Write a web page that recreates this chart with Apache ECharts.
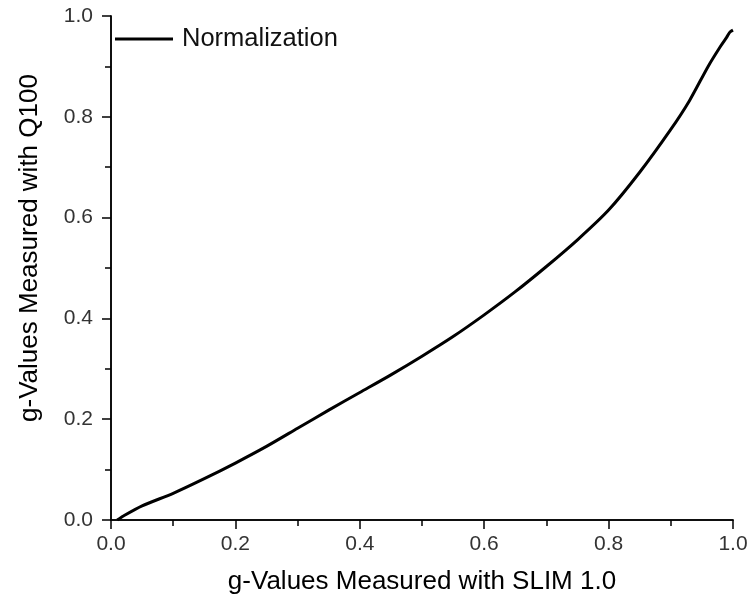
<!DOCTYPE html>
<html>
<head>
<meta charset="utf-8">
<script src="https://cdn.jsdelivr.net/npm/echarts@6/dist/echarts.min.js"></script>
<style>
  html, body { margin: 0; padding: 0; background: #fff; }
  #chart { width: 748px; height: 600px; }
</style>
</head>
<body>
<div id="chart"></div>
<script>
// g-values
const slimValues = [0.01, 0.02, 0.05, 0.1, 0.15, 0.2, 0.25, 0.3, 0.35, 0.4, 0.45, 0.5, 0.55, 0.6, 0.65, 0.7, 0.75, 0.8, 0.85, 0.9, 0.93, 0.96, 0.98, 0.99, 0.995, 1.0]
const q100Values = [0.0, 0.008, 0.028, 0.053, 0.082, 0.113, 0.146, 0.182, 0.218, 0.253, 0.288, 0.325, 0.364, 0.407, 0.453, 0.503, 0.556, 0.615, 0.69, 0.775, 0.832, 0.9, 0.94, 0.958, 0.968, 0.972]
const tickLabels = ['0.0', '0.2', '0.4', '0.6', '0.8', '1.0']
const seriesName = 'Normalization'

const font = '"Liberation Sans", Arial, sans-serif'
const chart = echarts.init(document.getElementById('chart'))

const fmt = v => tickLabels[Math.round(v / 0.2)] ?? ''

const baseAxis = {
  type: 'value', min: 0, max: 1, interval: 0.2,
  axisLine: { show: true, lineStyle: { color: '#000', width: 1.5 } },
  axisTick: { show: true, length: 9, lineStyle: { color: '#000', width: 1.5 } },
  minorTick: { show: true, splitNumber: 2, length: 6, lineStyle: { color: '#000', width: 1.5 } },
  splitLine: { show: false },
  minorSplitLine: { show: false }
}

const labelStyle = { color: '#333', fontSize: 21, fontFamily: font, formatter: fmt }
const nameStyle = { color: '#000', fontSize: 26, fontFamily: font }

const option = {
  backgroundColor: '#fff',
  animation: false,
  grid: { left: 111, right: 15, top: 16, bottom: 80, outerBoundsMode: 'none' },
  legend: {
    data: [seriesName], left: 110, top: 21,
    icon: 'rect', itemWidth: 58, itemHeight: 3,
    textStyle: { color: '#111', fontSize: 25.5, fontFamily: font, padding: [0, 0, 0, 4] }
  },
  xAxis: [
    { ...baseAxis, position: 'bottom',
      axisLabel: { ...labelStyle, margin: 14 },
      name: 'g-Values Measured with SLIM 1.0', nameLocation: 'middle', nameGap: 49,
      nameTextStyle: nameStyle },
    { ...baseAxis, position: 'top',
      axisTick: { ...baseAxis.axisTick, inside: true, length: 8 },
      minorTick: { ...baseAxis.minorTick, inside: true },
      axisLabel: { show: false } }
  ],
  yAxis: [
    { ...baseAxis, position: 'left',
      axisLabel: { ...labelStyle, margin: 18 },
      name: 'g-Values Measured with Q100', nameLocation: 'middle', nameGap: 68,
      nameTextStyle: { ...nameStyle, padding: [0, 0, 0, 40] } },
    { ...baseAxis, position: 'right',
      axisTick: { ...baseAxis.axisTick, inside: true, length: 8 },
      minorTick: { ...baseAxis.minorTick, inside: true },
      axisLabel: { show: false } }
  ],
  series: [{
    name: seriesName, type: 'line', xAxisIndex: 0, yAxisIndex: 0,
    data: slimValues.map((x, i) => [x, q100Values[i]]),
    smooth: 0.25, showSymbol: false, symbol: 'none',
    lineStyle: { color: '#000', width: 3, join: 'round' },
    itemStyle: { color: '#000' }
  }]
}

chart.setOption(option)
</script>
</body>
</html>
